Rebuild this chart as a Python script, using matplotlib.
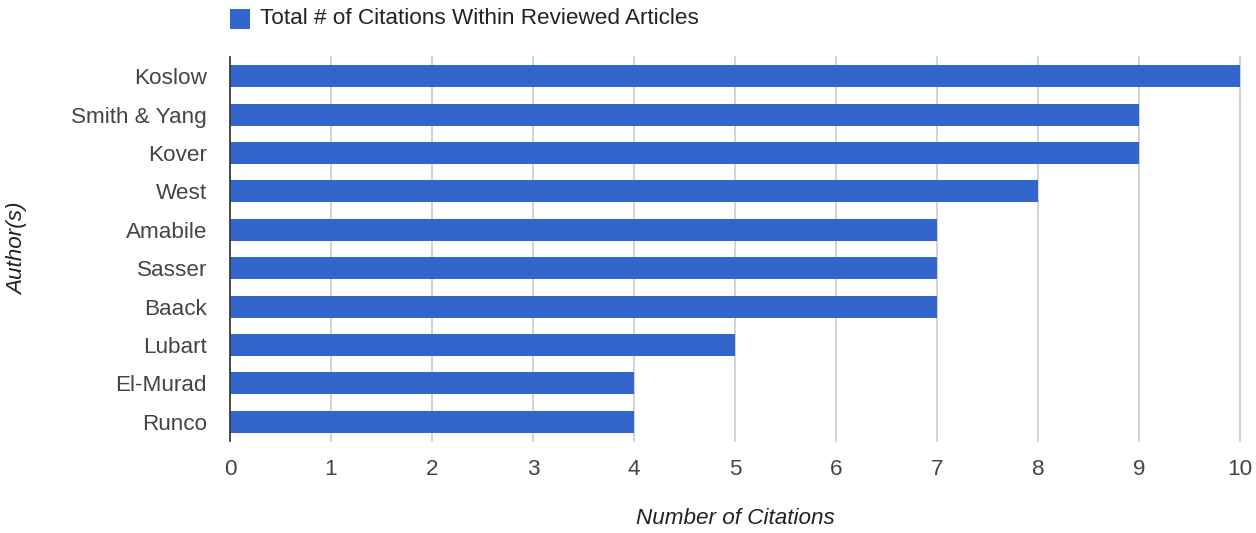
import matplotlib
matplotlib.use("Agg")
import matplotlib.pyplot as plt
from matplotlib.patches import Rectangle

authors = ["Koslow", "Smith & Yang", "Kover", "West", "Amabile", "Sasser",
           "Baack", "Lubart", "El-Murad", "Runco"]
citations = [10, 9, 9, 8, 7, 7, 7, 5, 4, 4]
x_ticks = list(range(0, 11))
series_name = "Total # of Citations Within Reviewed Articles"

plt.rcParams['font.family'] = ['Liberation Sans', 'DejaVu Sans']

W, H = 1256, 533
FS = 16.2

fig = plt.figure(figsize=(W / 100, H / 100), dpi=100)
ax = fig.add_axes([230 / W, 1 - 441 / H, 1010 / W, 384 / H])

ypos = list(range(len(authors)))
ax.barh(ypos, citations, height=0.575, color="#3366cc", zorder=3)
ax.set_ylim(len(authors) - 0.5, -0.5)
ax.set_xlim(0, 10)
ax.set_yticks(ypos)
ax.set_yticklabels(authors, fontsize=FS, color="#444444")
ax.set_xticks(x_ticks)
ax.set_xticklabels([str(t) for t in x_ticks], fontsize=FS, color="#444444")
ax.tick_params(axis="both", length=0)
ax.tick_params(axis="y", pad=16.5)
ax.tick_params(axis="x", pad=13)
ax.grid(axis="x", color="#cccccc", linewidth=1.2, zorder=0, clip_on=False)
for s in ["top", "right", "bottom"]:
    ax.spines[s].set_visible(False)
ax.spines["left"].set_color("#333333")
ax.spines["left"].set_linewidth(1.2)
ax.spines["left"].set_zorder(4)

# axis titles
fig.text(735 / W, 1 - 519 / H, "Number of Citations", fontsize=FS,
         style="italic", color="#222222", ha="center", va="center")
fig.text(18 / W, 1 - 249 / H, "Author(s)", fontsize=FS, style="italic",
         color="#222222", ha="center", va="center", rotation=90)

# legend at the top-left above the plot
fig.patches.append(Rectangle((230 / W, 1 - 29 / H), 20 / W, 20 / H,
                             transform=fig.transFigure, facecolor="#3366cc",
                             edgecolor="none"))
fig.text(260 / W, 1 - 18.5 / H, series_name, fontsize=FS,
         color="#222222", va="center", ha="left")

fig.savefig("out.png", dpi=100, facecolor="white")
